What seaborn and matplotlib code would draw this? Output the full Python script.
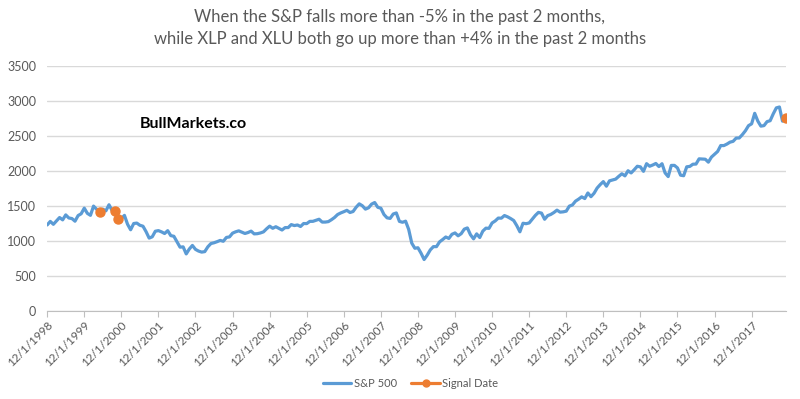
import numpy as np
import pandas as pd
import seaborn as sns
import matplotlib.pyplot as plt
from matplotlib.lines import Line2D

# monthly S&P 500 closes, 12/1/1998 .. 11/1/2018
sp500 = [
    1229.23,
    1279.64, 1238.33, 1286.37, 1335.18, 1301.84, 1372.71, 1328.72, 1320.41, 1282.71, 1362.93, 1388.91, 1469.25,
    1394.46, 1366.42, 1498.58, 1452.43, 1420.60, 1454.60, 1430.83, 1517.68, 1436.51, 1429.40, 1314.95, 1320.28,
    1366.01, 1239.94, 1160.33, 1249.46, 1255.82, 1224.42, 1211.23, 1133.58, 1040.94, 1059.78, 1139.45, 1148.08,
    1130.20, 1106.73, 1147.39, 1076.92, 1067.14, 989.82, 911.62, 916.07, 815.28, 885.76, 936.31, 879.82,
    855.70, 841.15, 848.18, 916.92, 963.59, 974.50, 990.31, 1008.01, 995.97, 1050.71, 1058.20, 1111.92,
    1131.13, 1144.94, 1126.21, 1107.30, 1120.68, 1140.84, 1101.72, 1104.24, 1114.58, 1130.20, 1173.82, 1211.92,
    1181.27, 1203.60, 1180.59, 1156.85, 1191.50, 1191.33, 1234.18, 1220.33, 1228.81, 1207.01, 1249.48, 1248.29,
    1280.08, 1280.66, 1294.83, 1310.61, 1270.09, 1270.20, 1276.66, 1303.82, 1335.85, 1377.94, 1400.63, 1418.30,
    1438.24, 1406.82, 1420.86, 1482.37, 1530.62, 1503.35, 1455.27, 1473.99, 1526.75, 1549.38, 1481.14, 1468.36,
    1378.55, 1330.63, 1322.70, 1385.59, 1400.38, 1280.00, 1267.38, 1282.83, 1166.36, 968.75, 896.24, 903.25,
    825.88, 735.09, 797.87, 872.81, 919.14, 919.32, 987.48, 1020.62, 1057.08, 1036.19, 1095.63, 1115.10,
    1073.87, 1104.49, 1169.43, 1186.69, 1089.41, 1030.71, 1101.60, 1049.33, 1141.20, 1183.26, 1180.55, 1257.64,
    1286.12, 1327.22, 1325.83, 1363.61, 1345.20, 1320.64, 1292.28, 1218.89, 1131.42, 1253.30, 1246.96, 1257.60,
    1312.41, 1365.68, 1408.47, 1397.91, 1310.33, 1362.16, 1379.32, 1406.58, 1440.67, 1412.16, 1416.18, 1426.19,
    1498.11, 1514.68, 1569.19, 1597.57, 1630.74, 1606.28, 1685.73, 1632.97, 1681.55, 1756.54, 1805.81, 1848.36,
    1782.59, 1859.45, 1872.34, 1883.95, 1923.57, 1960.23, 1930.67, 2003.37, 1972.29, 2018.05, 2067.56, 2058.90,
    1994.99, 2104.50, 2067.89, 2085.51, 2107.39, 2063.11, 2103.84, 1972.18, 1920.03, 2079.36, 2080.41, 2043.94,
    1940.24, 1932.23, 2059.74, 2065.30, 2096.95, 2098.86, 2173.60, 2170.95, 2168.27, 2126.15, 2198.81, 2238.83,
    2278.87, 2363.64, 2362.72, 2384.20, 2411.80, 2423.41, 2470.30, 2471.65, 2519.36, 2575.26, 2647.58, 2673.61,
    2823.81, 2713.83, 2640.87, 2648.05, 2705.27, 2718.37, 2816.29, 2901.52, 2913.98, 2711.74, 2760.17,
]
dates = pd.date_range('1998-12-01', periods=len(sp500), freq='MS')
signal_dates = ['2000-05-01', '2000-10-01', '2000-11-01', '2018-11-01']

df = pd.DataFrame({'Date': dates, 'SP500': sp500})
df['Signal'] = np.where(df['Date'].isin(pd.to_datetime(signal_dates)), df['SP500'], np.nan)
df['idx'] = np.arange(len(df))

sns.set_style('white')
plt.rcParams['font.family'] = ['Lato', 'DejaVu Sans']

fig = plt.figure(figsize=(8, 3.99), dpi=100)
ax = fig.add_axes([0.059, 0.2206, 0.923, 0.614])

blue = '#5B9BD5'
orange = '#ED7D31'
sns.lineplot(data=df, x='idx', y='SP500', color=blue, linewidth=2.3, ax=ax, legend=False)
ax.plot(df['idx'], df['Signal'], color=orange, linewidth=2.3, marker='o', markersize=6.5)

ax.set_xlim(0, len(df) - 1)
ax.set_ylim(0, 3500)
ax.set_yticks(range(0, 3501, 500))
ax.grid(axis='y', color='#d9d9d9', linewidth=1)
ax.set_axisbelow(True)

dec = df['Date'].dt.month == 12
ax.set_xticks(df['idx'][dec])
ax.set_xticklabels([f'12/1/{d.year}' for d in df['Date'][dec]],
                   rotation=45, ha='right', rotation_mode='anchor', fontsize=8.5, color='#595959')
ax.tick_params(axis='x', length=4, color='#bfbfbf', direction='out', bottom=True, pad=2)
ax.tick_params(axis='y', length=0, labelsize=9, labelcolor='#595959', pad=8)
for s in ['top', 'right', 'left']:
    ax.spines[s].set_visible(False)
ax.spines['bottom'].set_color('#bfbfbf')
ax.set_xlabel('')
ax.set_ylabel('')

fig.text(0.5, 0.978, 'When the S&P falls more than -5% in the past 2 months,\n'
         'while XLP and XLU both go up more than +4% in the past 2 months',
         ha='center', va='top', fontsize=12, color='#595959', linespacing=1.45)
ax.text(30, 2670, 'BullMarkets.co', fontsize=11.5, fontweight='bold', color='black', va='center')

handles = [Line2D([], [], color=blue, linewidth=2.3),
           Line2D([], [], color=orange, linewidth=2.3, marker='o', markersize=5)]
fig.legend(handles, ['S&P 500', 'Signal Date'], loc='center', bbox_to_anchor=(0.513, 0.038), ncol=2,
           frameon=False, fontsize=8, labelcolor='#595959', handlelength=2.6, handletextpad=0.2,
           columnspacing=1.3)

fig.savefig('out.png', dpi=100)
